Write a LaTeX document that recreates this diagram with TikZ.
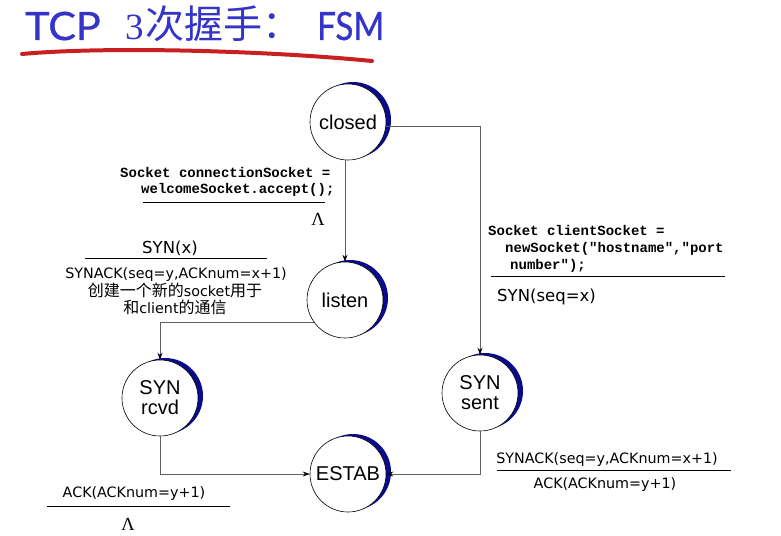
\documentclass[tikz,border=0pt]{standalone}
\usepackage{fontspec}
\setmainfont{Liberation Sans}
\newfontfamily\labfont{DejaVu Sans}
\newfontfamily\cjk{Noto Sans CJK SC}
\newfontfamily\monof{Liberation Mono}
\newfontfamily\titlef{Lato}[FakeBold=0.8]
\newfontfamily\seriff{Liberation Serif}
\usetikzlibrary{arrows.meta,shadows}
\definecolor{titleblue}{RGB}{52,52,200}
\definecolor{ulred}{RGB}{200,32,32}
\definecolor{shadenavy}{RGB}{10,10,140}
\definecolor{edgegray}{RGB}{95,95,95}
\newcommand{\zh}[1]{{\cjk\fontsize{16pt}{18pt}\selectfont #1}}
\tikzset{
  state/.style={circle, draw=black, line width=0.6pt, fill=white, minimum size=76pt,
    inner sep=0pt, align=center, font=\fontsize{20pt}{20pt}\selectfont,
    general shadow={fill=shadenavy, shadow xshift=5pt, shadow yshift=2pt}},
  edge/.style={draw=edgegray, line width=0.9pt, -{Stealth[length=7pt,width=5pt,color=black]}},
  mono/.style={inner sep=0pt, font=\monof\bfseries\fontsize{14pt}{16pt}\selectfont},
  lab/.style={inner sep=0pt, font=\labfont\fontsize{14.3pt}{17pt}\selectfont},
  lam/.style={inner sep=0pt, font=\seriff\fontsize{18.5pt}{18pt}\selectfont},
  rule/.style={draw=black, line width=1pt},
  ttl/.style={inner sep=0pt, text=titleblue},
}
\begin{document}
\begin{tikzpicture}[x=1pt,y=-1pt]
\useasboundingbox (0,0) rectangle (781,535);
% title
\node[ttl, anchor=base west, font=\titlef\fontsize{39pt}{39pt}\selectfont] (t1) at (25,40) {\scalebox{1.06}[1]{TCP}};
\node[ttl, anchor=base west, font=\seriff\fontsize{37pt}{37pt}\selectfont] (t2) at (125,40) {3};
\node[ttl, anchor=base west, font=\cjk\fontsize{39pt}{39pt}\selectfont] (t3) at (145,39) {次握手：};
\node[ttl, anchor=base west, font=\titlef\fontsize{39pt}{39pt}\selectfont] (t4) at (317,40) {\scalebox{0.85}[1]{FSM}};
\draw[ulred, line width=4pt, line cap=round] (22,54) .. controls (110,46) and (270,51) .. (372,61);
% states
\node[state] (closed) at (348,122) {closed};
\node[state] (listen) at (345,300) {listen};
\node[state] (rcvd) at (160,398) {SYN\\rcvd};
\node[state] (sent) at (480,393) {SYN\\sent};
\node[state] (estab) at (348,474) {ESTAB};
% edges
\draw[edge] (closed.south -| listen.north) -- (listen.north);
\draw[edge] ([yshift=-4pt]closed.east) -| (sent.north);
\draw[edge] (listen.215) -| (rcvd.north);
\draw[edge] (rcvd.south) |- (estab.west);
\draw[edge] (sent.south) |- (estab.east);
% label closed -> listen
\node[mono, anchor=base west] (m1a) at (120,177) {Socket connectionSocket =};
\node[mono, anchor=base west] (m1b) at (141,193) {welcomeSocket.accept();};
\coordinate (r1a) at (143,202); \coordinate (r1b) at (325,202);
\draw[rule] (r1a) -- (r1b);
\node[lam, anchor=base] (l1) at (318,225) {Λ};
% label closed -> sent
\node[mono, anchor=base west] (m2a) at (488,235) {Socket clientSocket =};
\node[mono, anchor=base west] (m2b) at (505,252) {newSocket("hostname","port};
\node[mono, anchor=base west] (m2c) at (510,269) {number");};
\coordinate (r2a) at (491,276); \coordinate (r2b) at (725,276);
\draw[rule] (r2a) -- (r2b);
\node[lab, anchor=base west, font=\labfont\fontsize{16.5pt}{17pt}\selectfont] (s2) at (497,301) {SYN(seq=x)};
% label listen -> rcvd
\node[lab, anchor=base, font=\labfont\fontsize{16.5pt}{17pt}\selectfont] (s3) at (170,253) {SYN(x)};
\coordinate (r3a) at (85,258); \coordinate (r3b) at (267,258);
\draw[rule] (r3a) -- (r3b);
\node[lab, anchor=base] (s3a) at (176,278) {SYNACK(seq=y,ACKnum=x+1)};
\node[lab, anchor=base] (s3b) at (175,296) {\zh{创建一个新的}socket\zh{用于}};
\node[lab, anchor=base] (s3c) at (175,313) {\zh{和}client\zh{的通信}};
% label sent -> estab
\node[lab, anchor=base] (s4a) at (607,463) {SYNACK(seq=y,ACKnum=x+1)};
\coordinate (r4a) at (497,470); \coordinate (r4b) at (731,470);
\draw[rule] (r4a) -- (r4b);
\node[lab, anchor=base] (s4b) at (605,488) {ACK(ACKnum=y+1)};
% label rcvd -> estab
\node[lab, anchor=base] (s5) at (134,497) {ACK(ACKnum=y+1)};
\coordinate (r5a) at (47,506); \coordinate (r5b) at (230,506);
\draw[rule] (r5a) -- (r5b);
\node[lam, anchor=base] (l5) at (128,530) {Λ};
\end{tikzpicture}
\end{document}
